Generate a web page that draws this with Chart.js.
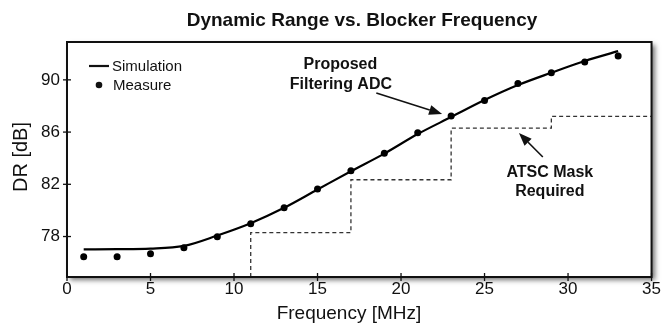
<!DOCTYPE html>
<html>
<head>
<meta charset="utf-8">
<script src="https://cdn.jsdelivr.net/npm/chart.js@4.4.1/dist/chart.umd.min.js"></script>
<style>
  html,body{margin:0;padding:0;background:#fff;}
  #wrap{width:663px;height:324px;}
</style>
</head>
<body>
<div id="wrap"><canvas id="chart" width="663" height="324"></canvas></div>
<script>
// values
const measFreq = [1,3,5,7,9,11,13,15,17,19,21,23,25,27,29,31,33];
const measDR   = [76.46,76.46,76.69,77.14,77.99,78.98,80.21,81.64,83.04,84.37,85.95,87.23,88.41,89.73,90.55,91.37,91.83];
const simFreq  = [1,3,5,7,9,11,13,15,17,19,21,23,25,27,29,31,33];
const simDR    = [77.02,77.03,77.07,77.28,78.08,79.02,80.2,81.6,83.0,84.35,85.85,87.15,88.45,89.6,90.55,91.45,92.2];
const maskFreq = [11,11,17,17,23,23,29,29,35];
const maskDR   = [74.9,78.3,78.3,82.35,82.35,86.3,86.3,87.2,87.2];
const xTicks = [0,5,10,15,20,25,30,35];
const yTicks = [78,82,86,90];

const pts = (xs, ys) => xs.map((x,i)=>({x, y:ys[i]}));
const FONT = "'Liberation Sans', Arial, sans-serif";

// annotation anchors, in data units
const notes = [
  { text:'Proposed', x:16.37, y:91.14 },
  { text:'Filtering ADC', x:16.4, y:89.61 },
  { text:'ATSC Mask', x:28.91, y:82.87 },
  { text:'Required', x:28.91, y:81.41 }
];
const arrows = [
  { from:[18.52,89.0], to:[22.46,87.39] },
  { from:[28.49,84.09], to:[27.06,85.93] }
];

function drawArrow(ctx, x1, y1, x2, y2){
  const a = Math.atan2(y2-y1, x2-x1), L = 13, W = 5;
  const bx = x2 - L*Math.cos(a), by = y2 - L*Math.sin(a);
  ctx.beginPath(); ctx.moveTo(x1,y1); ctx.lineTo(bx,by); ctx.stroke();
  ctx.beginPath();
  ctx.moveTo(x2,y2);
  ctx.lineTo(bx + W*Math.sin(a), by - W*Math.cos(a));
  ctx.lineTo(bx - W*Math.sin(a), by + W*Math.cos(a));
  ctx.closePath(); ctx.fill();
}

const frame = {
  id:'frame',
  beforeDraw(c){
    const ctx=c.ctx; ctx.save(); ctx.fillStyle='#fff'; ctx.fillRect(0,0,c.width,c.height); ctx.restore();
  },
  beforeDatasetsDraw(c){
    const {left,top,width,height}=c.chartArea, ctx=c.ctx;
    ctx.save();
    ctx.shadowColor='rgba(0,0,0,0.55)'; ctx.shadowBlur=5; ctx.shadowOffsetX=3; ctx.shadowOffsetY=3;
    ctx.fillStyle='#fff'; ctx.fillRect(left,top,width,height);
    ctx.restore();
  },
  afterDatasetsDraw(c){
    const {left,top,right,bottom,width,height}=c.chartArea, ctx=c.ctx;
    const sx=c.scales.x, sy=c.scales.y;
    ctx.save();
    ctx.strokeStyle='#111'; ctx.lineWidth=2;
    ctx.strokeRect(left,top,width,height);
    // tick marks crossing the axes
    ctx.lineWidth=1.3;
    xTicks.forEach(v=>{ const p=sx.getPixelForValue(v); ctx.beginPath(); ctx.moveTo(p,bottom-4); ctx.lineTo(p,bottom+4); ctx.stroke(); });
    yTicks.forEach(v=>{ const p=sy.getPixelForValue(v); ctx.beginPath(); ctx.moveTo(left-4,p); ctx.lineTo(left+4,p); ctx.stroke(); });

    // title
    ctx.fillStyle='#111'; ctx.textAlign='center'; ctx.textBaseline='alphabetic';
    ctx.font='bold 19px '+FONT;
    ctx.fillText('Dynamic Range vs. Blocker Frequency', 362, 26);
    // axis titles
    ctx.font='19px '+FONT;
    ctx.fillText('Frequency [MHz]', 349, 319);
    ctx.save(); ctx.translate(27, 157); ctx.rotate(-Math.PI/2);
    ctx.font='20px '+FONT; ctx.fillText('DR [dB]', 0, 0); ctx.restore();

    // legend
    ctx.lineWidth=2.2; ctx.beginPath(); ctx.moveTo(89,66); ctx.lineTo(109,66); ctx.stroke();
    ctx.beginPath(); ctx.arc(99,85,3.3,0,Math.PI*2); ctx.fill();
    ctx.font='15px '+FONT; ctx.textAlign='left'; ctx.textBaseline='middle';
    ctx.fillText('Simulation', 112, 67);
    ctx.fillText('Measure', 113, 86);

    // annotations
    ctx.font='bold 16px '+FONT; ctx.textAlign='center';
    notes.forEach(n=>ctx.fillText(n.text, sx.getPixelForValue(n.x), sy.getPixelForValue(n.y)));
    ctx.lineWidth=1.6;
    arrows.forEach(a=>drawArrow(ctx, sx.getPixelForValue(a.from[0]), sy.getPixelForValue(a.from[1]),
                                    sx.getPixelForValue(a.to[0]), sy.getPixelForValue(a.to[1])));
    ctx.restore();
  }
};

new Chart(document.getElementById('chart'), {
  type:'scatter',
  data:{ datasets:[
    { label:'ATSC Mask', data:pts(maskFreq,maskDR), showLine:true, borderColor:'#333', borderWidth:1.3,
      borderDash:[4,3], pointRadius:0, tension:0 },
    { label:'Simulation', data:pts(simFreq,simDR), showLine:true, borderColor:'#000', borderWidth:2.2,
      pointRadius:0, cubicInterpolationMode:'monotone' },
    { label:'Measure', data:pts(measFreq,measDR), showLine:false, backgroundColor:'#000', borderColor:'#000',
      pointRadius:3.5, pointBorderWidth:0 }
  ]},
  options:{
    responsive:false, animation:false, devicePixelRatio:1,
    layout:{ padding:{ left:0, right:10, top:42, bottom:0 } },
    plugins:{ legend:{display:false}, tooltip:{enabled:false}, title:{display:false} },
    scales:{
      x:{ type:'linear', min:0, max:35,
        afterBuildTicks:s=>{ s.ticks=xTicks.map(v=>({value:v})); },
        afterFit:s=>{ s.height=47; },
        grid:{display:false, drawTicks:false}, border:{display:false},
        ticks:{ color:'#111', padding:2, maxRotation:0, font:{family:FONT,size:17} } },
      y:{ type:'linear', min:74.9, max:92.9,
        afterBuildTicks:s=>{ s.ticks=yTicks.map(v=>({value:v})); },
        afterFit:s=>{ s.width=67; },
        grid:{display:false, drawTicks:false}, border:{display:false},
        ticks:{ color:'#111', padding:7, font:{family:FONT,size:17} } }
    }
  },
  plugins:[frame]
});
</script>
</body>
</html>
